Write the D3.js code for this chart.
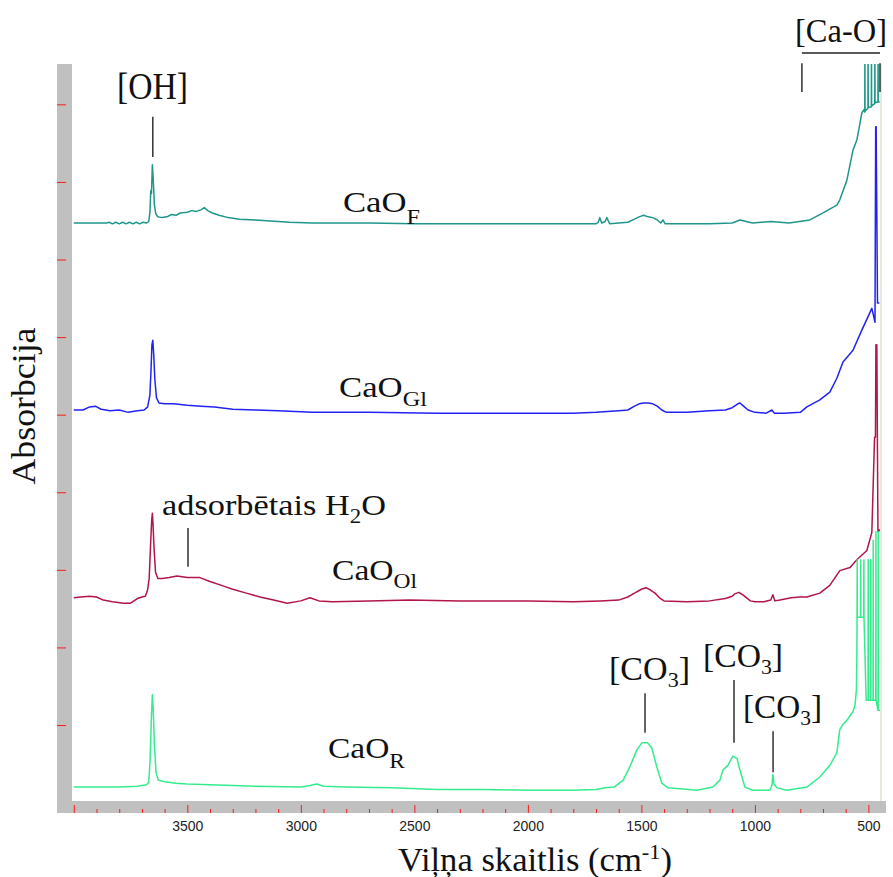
<!DOCTYPE html>
<html><head><meta charset="utf-8">
<script src="https://cdn.jsdelivr.net/npm/d3@7"></script>
<style>body{margin:0;background:#fff}</style>
</head><body><svg id="c" width="893" height="877"></svg>
<script>
// ---- data: [wavenumber cm-1, absorbance (arb. units)] ----
const caoF = [[4000,7.47],[3900,7.47],[3855,7.47],[3845,7.48],[3830,7.46],[3815,7.48],[3800,7.46],[3785,7.48],[3770,7.46],[3755,7.48],[3740,7.46],[3725,7.48],[3710,7.46],[3695,7.48],[3680,7.47],[3670,7.49],[3665,7.60],[3661,7.89],[3658,7.85],[3654,8.22],[3650,8.02],[3645,7.70],[3639,7.59],[3630,7.55],[3612,7.54],[3590,7.55],[3570,7.58],[3550,7.57],[3530,7.60],[3500,7.61],[3480,7.63],[3460,7.62],[3440,7.64],[3425,7.67],[3410,7.63],[3390,7.60],[3360,7.57],[3320,7.54],[3270,7.52],[3200,7.51],[3100,7.49],[3050,7.48],[2950,7.47],[2700,7.47],[2500,7.46],[2200,7.46],[1900,7.46],[1700,7.46],[1690,7.48],[1683,7.54],[1675,7.47],[1660,7.49],[1652,7.54],[1640,7.46],[1600,7.47],[1560,7.48],[1530,7.52],[1510,7.55],[1490,7.57],[1470,7.55],[1450,7.54],[1430,7.51],[1415,7.47],[1405,7.51],[1395,7.46],[1300,7.46],[1200,7.46],[1100,7.47],[1066,7.51],[1010,7.47],[930,7.49],[850,7.47],[758,7.51],[700,7.60],[639,7.70],[626,7.77],[595,8.02],[568,8.41],[551,8.54],[537,8.76],[529,8.89],[520,8.93],[516,8.90],[515.5,9.7],[514.8,8.91],[502,8.95],[501.5,9.7],[500.8,8.96],[487,8.97],[486.5,9.7],[485.8,8.98],[472,9.01],[471.5,9.7],[470.8,9.02],[458,9.03],[457.5,9.7],[456.8,9.03],[450,9.03]];
const caoGl = [[4000,5.06],[3960,5.06],[3930,5.10],[3905,5.11],[3880,5.07],[3840,5.05],[3800,5.06],[3760,5.03],[3720,5.05],[3690,5.06],[3675,5.10],[3665,5.25],[3660,5.57],[3656,5.90],[3652,5.96],[3648,5.77],[3643,5.45],[3636,5.22],[3625,5.15],[3600,5.14],[3560,5.14],[3500,5.12],[3440,5.11],[3380,5.10],[3300,5.07],[3200,5.06],[3100,5.05],[2950,5.03],[2700,5.03],[2400,5.02],[2100,5.02],[1800,5.02],[1700,5.03],[1600,5.05],[1560,5.06],[1530,5.11],[1510,5.14],[1490,5.15],[1470,5.15],[1450,5.14],[1430,5.11],[1410,5.06],[1390,5.03],[1300,5.03],[1200,5.05],[1130,5.06],[1100,5.09],[1075,5.14],[1066,5.15],[1050,5.11],[1030,5.06],[1000,5.03],[950,5.02],[925,5.06],[915,5.02],[870,5.02],[800,5.03],[771,5.10],[714,5.19],[670,5.29],[639,5.47],[612,5.68],[568,5.83],[529,6.09],[502,6.26],[485,6.37],[480,6.31],[471,6.19],[468,8.71],[466,8.71],[460,6.44],[452,6.44]];
const caoOl = [[4000,2.64],[3970,2.65],[3930,2.66],[3900,2.65],[3870,2.61],[3830,2.59],[3780,2.57],[3750,2.57],[3720,2.63],[3700,2.65],[3685,2.66],[3675,2.74],[3668,2.89],[3662,3.32],[3657,3.64],[3654,3.73],[3651,3.58],[3647,3.30],[3640,2.97],[3630,2.89],[3610,2.89],[3580,2.90],[3546,2.92],[3500,2.90],[3445,2.90],[3400,2.85],[3340,2.79],[3300,2.75],[3240,2.70],[3180,2.65],[3120,2.61],[3060,2.57],[3000,2.60],[2960,2.64],[2920,2.60],[2860,2.59],[2700,2.60],[2520,2.61],[2300,2.60],[2000,2.60],[1800,2.59],[1680,2.60],[1600,2.61],[1560,2.65],[1530,2.70],[1500,2.75],[1480,2.77],[1460,2.74],[1440,2.70],[1420,2.64],[1400,2.60],[1300,2.59],[1200,2.60],[1130,2.63],[1100,2.66],[1090,2.69],[1070,2.71],[1050,2.67],[1020,2.60],[1000,2.59],[960,2.59],[930,2.61],[921,2.68],[912,2.60],[890,2.61],[840,2.64],[800,2.65],[771,2.65],[714,2.70],[670,2.80],[626,2.99],[581,3.03],[551,3.13],[507,3.25],[485,3.48],[473,4.71],[469,4.71],[467,5.90],[463,5.90],[458,3.49],[449,3.52]];
const caoR = [[4000,0.20],[3800,0.20],[3720,0.21],[3680,0.23],[3670,0.26],[3664,0.55],[3658,1.13],[3654,1.39],[3650,1.19],[3645,0.74],[3638,0.39],[3628,0.29],[3600,0.27],[3550,0.25],[3500,0.24],[3400,0.23],[3200,0.21],[3000,0.20],[2960,0.22],[2930,0.24],[2900,0.21],[2800,0.20],[2600,0.19],[2400,0.17],[2200,0.17],[2000,0.16],[1800,0.16],[1700,0.17],[1660,0.19],[1620,0.20],[1580,0.29],[1551,0.46],[1520,0.68],[1498,0.77],[1472,0.77],[1454,0.70],[1432,0.46],[1410,0.25],[1383,0.19],[1255,0.16],[1185,0.20],[1154,0.29],[1141,0.42],[1119,0.48],[1097,0.60],[1079,0.57],[1066,0.42],[1044,0.20],[1009,0.16],[934,0.16],[925,0.22],[921,0.36],[916,0.24],[903,0.19],[859,0.16],[771,0.20],[714,0.33],[670,0.48],[639,0.64],[626,0.94],[612,1.01],[595,1.06],[581,1.12],[568,1.17],[559,1.26],[553,1.45],[551,1.84],[550,2.39],[549.3,3.13],[548.7,2.39],[534.6,2.39],[534,3.13],[533.4,2.39],[520.6,2.39],[520,3.13],[519.4,2.39],[510,1.32],[501.6,1.32],[501,3.13],[500.4,1.32],[490.6,1.32],[490,3.13],[489.4,1.32],[479.6,1.32],[479,3.38],[478.4,1.32],[467.6,1.32],[467,3.49],[466.4,1.32],[457.6,1.19],[457,3.49],[456.4,1.19],[449,1.19]];

const seriesData = [caoF, caoGl, caoOl, caoR];
const seriesColors = ["#1e968a", "#2222f5", "#b3144e", "#34ec8e"];
const seriesMain = ["CaO", "CaO", "CaO", "CaO"];
const seriesSub = ["F", "Gl", "Ol", "R"];

const majorTicks = [4000, 3500, 3000, 2500, 2000, 1500, 1000, 500];
const majorLabels = ["", "3500", "3000", "2500", "2000", "1500", "1000", "500"];
const minorTicks = [3900,3800,3700,3600,3400,3300,3200,3100,2900,2800,2700,2600,2400,2300,2200,2100,1900,1800,1700,1600,1400,1300,1200,1100,900,800,700,600];
const yTicks = [1, 2, 3, 4, 5, 6, 7, 8, 9];

// annotation leader lines: [wavenumber, absorbance top, absorbance bottom]
const annoLines = [[3652, 8.84, 8.32], [3497, 3.54, 3.04], [1484, 1.41, 0.90], [1092, 1.58, 0.77], [920, 0.92, 0.39], [793, 9.53, 9.16], [449, 9.53, 9.16]];

// ---- drawing ----
const svg = d3.select("#c");
const x = d3.scaleLinear().domain([4008, 449]).range([72, 880]);
const y = d3.scaleLinear().domain([0, 9.52]).range([802.6, 64]);
const SERIF = "'Liberation Serif','Times New Roman',serif";

svg.append("rect").attr("x", 57).attr("y", 64).attr("width", 15).attr("height", 749).attr("fill", "#c0c0c0");
svg.append("rect").attr("x", 57).attr("y", 801).attr("width", 829).attr("height", 12).attr("fill", "#c0c0c0");
svg.append("rect").attr("x", 880).attr("y", 64).attr("width", 2).attr("height", 737).attr("fill", "#ece9d8");

svg.append("clipPath").attr("id", "clip").append("rect").attr("x", 72).attr("y", 64).attr("width", 808).attr("height", 737);

const line = d3.line().x(d => x(d[0])).y(d => y(d[1]));
const gl = svg.append("g").attr("clip-path", "url(#clip)");
seriesData.forEach((s, i) => {
  gl.append("path").datum(s).attr("d", line).attr("fill", "none")
    .attr("stroke", seriesColors[i]).attr("stroke-width", 1.5).attr("stroke-linejoin", "round");
});

// axes
const gMaj = svg.append("g").attr("transform", "translate(0,805)")
  .call(d3.axisBottom(x).tickValues(majorTicks).tickSize(8).tickPadding(8).tickFormat((d, i) => majorLabels[i]));
const gMin = svg.append("g").attr("transform", "translate(0,809)")
  .call(d3.axisBottom(x).tickValues(minorTicks).tickSize(4).tickFormat(""));
const gY = svg.append("g").attr("transform", "translate(57,0)")
  .call(d3.axisRight(y).tickValues(yTicks).tickSize(9).tickFormat(""));
[gMaj, gMin, gY].forEach(g => {
  g.select(".domain").remove();
  g.selectAll(".tick line").attr("stroke", "#ff1a1a").attr("stroke-width", 1);
});
gMaj.selectAll(".tick text").attr("font-family", "'Liberation Sans',Arial,sans-serif")
  .attr("font-size", 14).attr("fill", "#222");

// annotation lines
svg.append("g").selectAll("line").data(annoLines).join("line")
  .attr("x1", d => x(d[0])).attr("x2", d => x(d[0]))
  .attr("y1", d => y(d[1])).attr("y2", d => y(d[2]))
  .attr("stroke", "#222").attr("stroke-width", 1.4);
svg.append("line").attr("x1", x(793)).attr("x2", x(449)).attr("y1", 53).attr("y2", 53)
  .attr("stroke", "#222").attr("stroke-width", 1.4);

// text helper
function label(px, py, parts, size, width) {
  const t = svg.append("text").attr("x", px).attr("y", py)
    .attr("font-family", SERIF).attr("font-size", size).attr("fill", "#111");
  parts.forEach(p => {
    const ts = t.append("tspan").text(p.t);
    if (p.s) ts.attr("font-size", p.s);
    if (p.dy) ts.attr("dy", p.dy);
  });
  if (width) t.attr("textLength", width).attr("lengthAdjust", "spacingAndGlyphs");
  return t;
}

label(117, 99, [{t: "[OH]"}], 38, 71);
label(795, 42, [{t: "[Ca-O]"}], 34, 92);
label(162, 515, [{t: "adsorbētais H"}, {t: "2", s: 20, dy: 8}, {t: "O", dy: -8}], 30, 224);
label(609, 680, [{t: "[CO"}, {t: "3", s: 22, dy: 7}, {t: "]", dy: -7}], 34, 81);
label(703, 667, [{t: "[CO"}, {t: "3", s: 22, dy: 7}, {t: "]", dy: -7}], 34, 80);
label(743, 718, [{t: "[CO"}, {t: "3", s: 22, dy: 7}, {t: "]", dy: -7}], 34, 79);

const labelPos = [[343, 212, 12, 77], [339, 397, 9, 88], [332, 580, 8, 85], [328, 758, 10, 77]];
labelPos.forEach((p, i) => {
  label(p[0], p[1], [{t: seriesMain[i]}, {t: seriesSub[i], s: 21, dy: p[2]}], 30, p[3]);
});

// axis titles
label(398, 871, [{t: "Viļņa skaitlis (cm"}, {t: "-1", s: 22, dy: -12}, {t: ")", dy: 12}], 34, 274);
svg.append("text").attr("transform", "translate(35,406) rotate(-90)")
  .attr("text-anchor", "middle").attr("font-family", SERIF).attr("font-size", 34).attr("fill", "#111")
  .attr("textLength", 157).attr("lengthAdjust", "spacingAndGlyphs").text("Absorbcija");
</script>
</body></html>
